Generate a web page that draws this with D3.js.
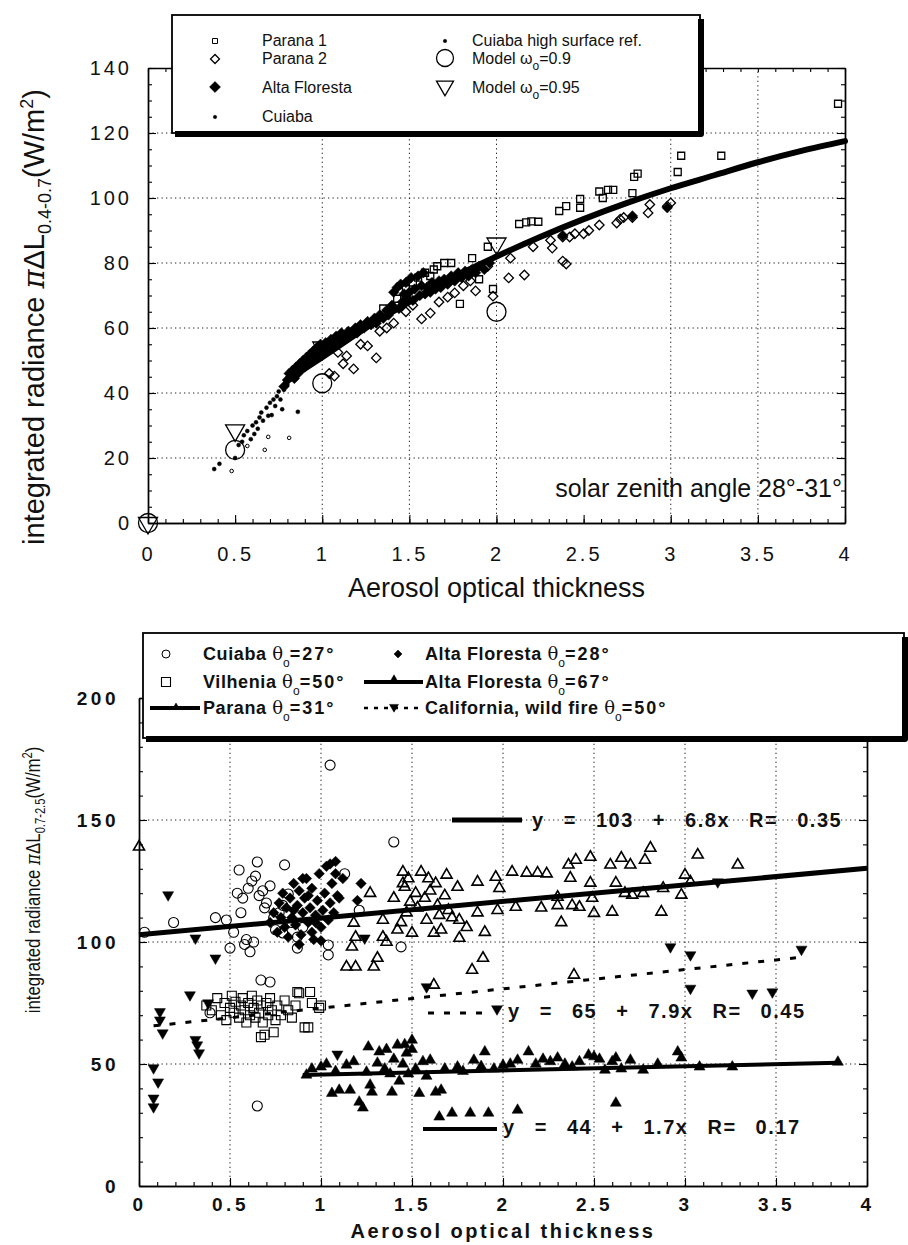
<!DOCTYPE html>
<html>
<head>
<meta charset="utf-8">
<script src="https://cdn.jsdelivr.net/npm/d3@7"></script>
<style>
  html, body { margin: 0; padding: 0; background: #fff; }
  svg { display: block; }
  text { font-family: "Liberation Sans", Arial, Helvetica, sans-serif; fill: #111; }
</style>
</head>
<body>
<svg id="fig" width="908" height="1245"></svg>
<script>
// ================= Upper panel: 0.4-0.7 µm radiance vs optical thickness =================
const topXTicks = [0, 0.5, 1, 1.5, 2, 2.5, 3, 3.5, 4];
const topXTickLabels = ["0", "0.5", "1", "1.5", "2", "2.5", "3", "3.5", "4"];
const topYTicks = [0, 20, 40, 60, 80, 100, 120, 140];
const topYTickLabels = ["0", "20", "40", "60", "80", "100", "120", "140"];
const topXGrid = [1, 1.5, 2, 3, 3.5];
const topYGrid = [20, 40, 60, 80, 100, 120];

// Parana 1 (open squares)
const parana1 = [[1.35,66],[1.43,69],[1.48,72],[1.52,74],[1.55,75.5],[1.59,77],[1.62,76],[1.64,78],[1.66,79],
  [1.70,80],[1.74,80],[1.79,67.4],[1.86,81.5],[1.90,75],[1.95,85],[1.98,72],[2.13,92],[2.17,92.5],[2.20,92.8],
  [2.24,92.7],[2.36,96],[2.40,97.5],[2.48,97],[2.48,99.7],[2.59,102],[2.61,100],[2.64,102.5],[2.67,102.5],
  [2.78,101.5],[2.79,106.5],[2.81,107.5],[3.04,108],[3.06,113],[3.29,113],[3.96,129]];
// Parana 2 (open diamonds)
const parana2 = [[1.04,46],[1.07,45.2],[1.09,52.5],[1.12,49],[1.14,51.4],[1.18,47.4],[1.22,55],[1.26,54.5],
  [1.31,50.8],[1.33,59],[1.37,60],[1.41,61.5],[1.48,65],[1.52,67],[1.57,62.8],[1.62,64.6],[1.67,68],[1.72,69.5],
  [1.76,70.8],[1.81,73],[1.85,74.5],[1.88,71.4],[1.95,79],[1.98,69.8],[2.07,75.4],[2.08,81.5],[2.16,76.3],
  [2.21,85],[2.31,87],[2.32,84.6],[2.38,80.6],[2.40,79.7],[2.38,88],[2.42,88],[2.45,89],[2.50,89],[2.53,90],
  [2.59,91.7],[2.69,92.3],[2.71,93.5],[2.73,94],[2.78,94],[2.87,95.4],[2.88,98],[2.98,97.5],[3.00,98.5]];
// Alta Floresta (filled diamonds)
const altaFlorestaTop = [[0.78,42],[0.80,44],[0.81,46],[0.82,45],[0.83,47],[0.84,44.5],[0.85,48],[0.86,46],
  [0.87,49],[0.88,47.5],[0.89,50],[0.90,48],[0.91,51],[0.92,49.5],[0.93,52],[0.94,50],[0.95,53],[0.96,51.5],
  [0.97,54],[0.98,52],[0.99,55],[1.00,53],[1.02,55.5],[1.03,54],[1.05,56.5],[1.06,55],[1.08,57.5],[1.10,56],
  [1.11,58.5],[1.13,57],[1.15,59],[1.17,58],[1.19,60],[1.20,58.5],[1.22,61],[1.24,60],[1.26,62],[1.28,61],
  [1.30,63],[1.31,61.5],[1.33,64],[1.35,63],[1.37,65.5],[1.38,64],[1.40,67],[1.41,71],[1.43,72.5],[1.44,66],
  [1.45,73.5],[1.46,68],[1.47,70.5],[1.48,74],[1.49,69],[1.50,71],[1.51,75.5],[1.52,68.5],[1.53,72],[1.55,76],
  [1.56,70],[1.57,73],[1.58,77],[1.59,70.5],[1.60,72.5],[1.62,71],[1.63,74],[1.65,72],[1.67,74.5],[1.68,72.5],
  [1.70,75],[1.72,73.5],[1.74,76],[1.76,74.5],[1.78,77],[1.80,75.5],[1.82,77.5],[1.84,76],[1.86,78],[1.88,77],
  [1.90,79],[1.93,78],[1.96,80],[2.38,88.5],[2.78,94.5],[2.98,97]];
// Cuiaba (small dots)
const cuiabaTop = [[0.38,16.6],[0.41,18.2],[0.50,20],[0.52,24],[0.54,25],[0.55,27],[0.57,28.3],[0.59,25.8],
  [0.60,30],[0.61,27.4],[0.62,31],[0.63,29],[0.64,32.5],[0.65,34],[0.66,31.5],[0.68,35.5],[0.69,33],[0.70,37],
  [0.71,33.2],[0.72,38],[0.73,36],[0.74,39],[0.75,40.5],[0.76,38],[0.77,35],[0.78,41],[0.80,42.5],[0.86,34.2]];
// Cuiaba high surface reflectance (small dots)
const cuiabaHigh = [[0.48,16],[0.57,23.7],[0.67,22.5],[0.69,26.5],[0.81,26.2]];
// Model results
const model090 = [[0,0],[0.5,22.5],[1,43],[2,65]];
const model095 = [[0,0],[0.5,28.5],[1,54],[2,86]];
// Smooth fitted curve
const fitCurve = [[0.8,44],[1.0,51],[1.25,60],[1.5,68],[1.75,75.5],[2.0,82],[2.25,88],[2.5,93.5],
  [2.75,98.5],[3.0,103],[3.25,107],[3.5,111],[3.75,114.5],[4.0,117.5]];

// ================= Lower panel: 0.7-2.5 µm radiance vs optical thickness =================
const botXTicks = [0, 0.5, 1, 1.5, 2, 2.5, 3, 3.5, 4];
const botXTickLabels = ["0", "0.5", "1", "1.5", "2", "2.5", "3", "3.5", "4"];
const botYTicks = [0, 50, 100, 150, 200];
const botYTickLabels = ["0", "50", "100", "150", "200"];
const botXGrid = [0.5, 1, 1.5, 2, 2.5, 3, 3.5];
const botYGrid = [50, 100, 150];

// Cuiaba θo=27° (open circles)
const cuiaba27 = [[0.03,104],[0.19,108],[0.39,71],[0.42,110],[0.48,109],[0.50,97.5],[0.52,104],[0.54,120],
  [0.55,129.5],[0.56,112],[0.57,118],[0.58,99],[0.59,101],[0.60,122],[0.61,96],[0.62,125],[0.63,100],[0.64,127],
  [0.65,132.8],[0.65,32.8],[0.66,119],[0.67,84.4],[0.68,121],[0.69,114],[0.70,116],[0.72,83.6],[0.72,123],
  [0.74,110],[0.75,105],[0.77,112],[0.79,103.7],[0.79,115],[0.80,131.6],[0.82,119.7],[0.84,108],[0.87,102],
  [0.87,97.5],[0.90,106],[1.04,98.8],[1.04,94.7],[1.05,172.5],[1.13,128],[1.21,113],[1.40,141],[1.44,98]];
// Vilhenia θo=50° (open squares)
const vilhenia50 = [[0.37,74],[0.40,72],[0.43,77],[0.45,70],[0.47,75],[0.48,68],[0.50,73],[0.51,78],[0.52,71],
  [0.53,75.5],[0.55,69],[0.56,74],[0.57,77],[0.58,72],[0.59,67],[0.60,75],[0.61,70],[0.62,78],[0.63,73],[0.64,69],
  [0.65,76],[0.66,71],[0.67,74],[0.67,61],[0.68,67],[0.69,62],[0.70,75],[0.71,70],[0.72,77],[0.73,72],[0.74,63],
  [0.75,68],[0.76,74],[0.78,70],[0.80,76],[0.82,72],[0.84,69],[0.86,74],[0.87,79.5],[0.88,79],[0.91,65],[0.93,65],
  [0.94,79.5],[0.95,75],[0.99,73],[1.00,74]];
// Alta Floresta θo=28° (filled diamonds)
const alta28 = [[0.72,108],[0.74,112],[0.76,104],[0.77,116],[0.78,110],[0.79,120],[0.80,106],[0.81,114],
  [0.82,102],[0.83,118],[0.84,110],[0.85,124],[0.85,113],[0.86,107],[0.87,115],[0.88,121],[0.88,99],[0.89,103],
  [0.90,112],[0.90,126],[0.91,118],[0.92,126],[0.93,108],[0.93,119],[0.94,114],[0.95,122],[0.95,104],[0.96,101],
  [0.97,111],[0.97,108],[0.98,117],[0.99,128],[1.00,106],[1.00,100.5],[1.01,113],[1.02,120],[1.03,131],[1.04,109],
  [1.05,116],[1.05,132],[1.06,124],[1.07,112],[1.08,128],[1.08,133],[1.09,119],[1.10,118],[1.12,126],[1.20,117],
  [1.22,124]];
// Parana θo=31° (open triangles)
const parana31 = [[0.0,139],[1.14,89.8],[1.17,98],[1.18,107.8],[1.19,102],[1.19,89.8],[1.27,120],[1.29,89.8],
  [1.31,93.4],[1.34,109],[1.34,102],[1.36,100],[1.40,118],[1.42,105],[1.44,108],[1.45,128.7],[1.45,124],
  [1.46,122.5],[1.47,112],[1.48,126],[1.49,116.4],[1.50,103.7],[1.52,120],[1.53,114],[1.55,128.7],[1.57,118],
  [1.58,109],[1.59,126],[1.60,121],[1.62,103.7],[1.62,82.4],[1.63,124],[1.64,115],[1.65,111],[1.66,105],
  [1.68,119],[1.69,127.5],[1.70,113],[1.72,110],[1.75,122.5],[1.76,101.6],[1.76,109],[1.80,106],[1.83,88.5],
  [1.86,124.6],[1.86,112],[1.89,93.4],[1.90,104],[1.96,126.6],[1.97,113],[1.98,122],[2.05,128.7],[2.07,114.3],
  [2.13,128.3],[2.19,128.3],[2.21,114],[2.24,128],[2.30,118.4],[2.30,115],[2.32,108],[2.36,131.6],[2.37,126.2],
  [2.38,115],[2.39,86.5],[2.40,133.6],[2.42,114.3],[2.48,134.8],[2.48,124.2],[2.49,118],[2.50,111.8],[2.59,131.6],
  [2.60,112.3],[2.62,124.2],[2.65,134.4],[2.67,120],[2.70,131.6],[2.71,119.3],[2.77,120],[2.78,133.6],[2.81,138.5],
  [2.87,112.3],[2.88,122],[2.98,119.3],[3.00,127.5],[3.03,124.6],[3.07,135.7],[3.29,131.6]];
// Alta Floresta θo=67° (filled upward triangles)
const alta67 = [[0.92,45.5],[0.95,48],[1.00,48.8],[1.03,50],[1.06,38],[1.08,47],[1.10,39.3],[1.14,49.6],
  [1.16,39.3],[1.18,51],[1.21,34.4],[1.23,32],[1.25,46.7],[1.26,57],[1.27,41.4],[1.28,38.5],[1.31,50.4],[1.32,55],
  [1.35,48],[1.36,56],[1.38,46],[1.39,38.5],[1.40,52],[1.42,57.8],[1.43,43],[1.45,50],[1.46,58],[1.47,54.5],
  [1.48,46],[1.50,59.8],[1.50,56],[1.52,48],[1.54,38],[1.56,51],[1.58,45],[1.60,51.6],[1.63,38.5],[1.65,28.3],
  [1.66,39.3],[1.68,48],[1.72,29.9],[1.75,48.8],[1.78,47],[1.82,29.9],[1.84,51.6],[1.88,49],[1.90,55],[1.92,29.9],
  [1.95,48],[2.00,49.5],[2.04,50],[2.08,31.1],[2.08,51.6],[2.14,55],[2.18,50],[2.22,52],[2.26,51],[2.30,52.5],
  [2.34,50],[2.38,48.8],[2.42,51],[2.47,53.7],[2.50,53],[2.53,52],[2.56,47.5],[2.60,51],[2.62,52.5],[2.62,34],
  [2.65,48],[2.70,51.6],[2.77,47.5],[2.85,50],[2.96,55],[2.98,52.5],[3.08,48.8],[3.26,48.8],[3.84,50.8]];
// California wild fire θo=50° (filled downward triangles)
const california50 = [[0.08,48.4],[0.08,36],[0.08,32.4],[0.105,42.6],[0.115,71.4],[0.115,68],[0.13,62.7],
  [0.16,119.3],[0.28,78.3],[0.31,101.6],[0.31,60],[0.32,57.8],[0.33,54.5],[0.38,75],[0.42,93.4],[1.09,54],
  [1.24,101.6],[1.58,81.6],[2.92,98],[3.03,94.7],[3.03,81],[3.18,124.6],[3.37,79],[3.48,79.5],[3.64,97]];

// Linear fits (intercept, slope, correlation, x-range) as printed on the panel
const fitParana = { a: 103, b: 6.8, r: 0.35, from: 0, to: 4 };
const fitCalifornia = { a: 65, b: 7.9, r: 0.45, from: 0.08, to: 3.64 };
const fitAlta67 = { a: 44, b: 1.7, r: 0.17, from: 0.9, to: 3.84 };

// ================= drawing =================
const svg = d3.select("#fig");
const FONT = '"Liberation Sans", Arial, Helvetica, sans-serif';

function symPath(shape, size) {
  // size = full width of the marker in px
  switch (shape) {
    case "square":  return d3.symbol(d3.symbolSquare, size * size)();
    case "diamond": return d3.symbol(d3.symbolSquare, (size / Math.SQRT2) ** 2)();
    case "circle":  return d3.symbol(d3.symbolCircle, Math.PI * (size / 2) ** 2)();
    case "triUp":
    case "triDown": return d3.symbol(d3.symbolTriangle, size * size * Math.sqrt(3) / 4)();
  }
}
function rot(shape) { return shape === "diamond" ? 45 : shape === "triDown" ? 180 : 0; }

function marks(g, data, x, y, shape, size, filled, sw = 1.2) {
  g.append("g").selectAll("path").data(data).join("path")
    .attr("d", symPath(shape, size))
    .attr("transform", d => `translate(${x(d[0])},${y(d[1])}) rotate(${rot(shape)})`)
    .attr("fill", filled ? "#000" : "none")
    .attr("stroke", "#000")
    .attr("stroke-width", sw);
}
function marker(g, cx, cy, shape, size, filled, sw = 1.2) {
  g.append("path").attr("d", symPath(shape, size))
    .attr("transform", `translate(${cx},${cy}) rotate(${rot(shape)})`)
    .attr("fill", filled ? "#000" : "none").attr("stroke", "#000").attr("stroke-width", sw);
}

function grid(g, x, y, xs, ys) {
  const gg = g.append("g").attr("stroke", "#222").attr("stroke-width", 1).attr("stroke-dasharray", "1.3,3.2");
  const [x0, x1] = x.range(), [y0, y1] = y.range();
  xs.forEach(v => gg.append("line").attr("x1", x(v)).attr("x2", x(v)).attr("y1", y0).attr("y2", y1));
  ys.forEach(v => gg.append("line").attr("x1", x0).attr("x2", x1).attr("y1", y(v)).attr("y2", y(v)));
}

function frame(g, x, y, opt) {
  const [x0, x1] = x.range(), [y0, y1] = y.range();
  const xMinor = d3.range(0, 4.0001, 0.1).map(v => +v.toFixed(2));
  const yMinor = d3.range(0, opt.yMax + 0.001, opt.yMinorStep);
  const style = sel => sel.call(s => s.select(".domain").attr("stroke-width", 1.4))
    .call(s => s.selectAll(".tick line").attr("stroke-width", 1.1));
  // minor ticks on all four sides
  g.append("g").attr("transform", `translate(0,${y0})`)
    .call(d3.axisBottom(x).tickValues(xMinor).tickSizeInner(-4).tickSizeOuter(0).tickFormat("")).call(style);
  g.append("g").attr("transform", `translate(0,${y1})`)
    .call(d3.axisTop(x).tickValues(xMinor).tickSizeInner(-4).tickSizeOuter(0).tickFormat("")).call(style);
  g.append("g").attr("transform", `translate(${x0},0)`)
    .call(d3.axisLeft(y).tickValues(yMinor).tickSizeInner(-4).tickSizeOuter(0).tickFormat("")).call(style);
  g.append("g").attr("transform", `translate(${x1},0)`)
    .call(d3.axisRight(y).tickValues(yMinor).tickSizeInner(-4).tickSizeOuter(0).tickFormat("")).call(style);
  // major ticks with labels
  const bx = g.append("g").attr("transform", `translate(0,${y0})`)
    .call(d3.axisBottom(x).tickValues(opt.xTicks).tickSizeInner(-8).tickSizeOuter(0)
      .tickPadding(opt.xPad).tickFormat((d, i) => opt.xLabels[i])).call(style);
  const ly = g.append("g").attr("transform", `translate(${x0},0)`)
    .call(d3.axisLeft(y).tickValues(opt.yTicks).tickSizeInner(-8).tickSizeOuter(0)
      .tickPadding(opt.yPad).tickFormat((d, i) => opt.yLabels[i])).call(style);
  g.append("g").attr("transform", `translate(${x1},0)`)
    .call(d3.axisRight(y).tickValues(opt.yTicks).tickSizeInner(-8).tickSizeOuter(0).tickFormat("")).call(style);
  [bx, ly].forEach(a => a.selectAll("text")
    .attr("font-family", opt.font).attr("font-size", opt.tickSize)
    .attr("font-weight", opt.bold ? "bold" : "normal")
    .attr("letter-spacing", opt.spacing).attr("fill", "#111"));
}

function legendBox(g, x0, y0, x1, y1) {
  g.append("rect").attr("x", x0).attr("y", y0).attr("width", x1 - x0).attr("height", y1 - y0)
    .attr("fill", "#fff").attr("stroke", "#000").attr("stroke-width", 1.8);
  g.append("path").attr("d", `M${x0 + 3},${y1 + 1} H${x1 + 1} V${y0 + 4}`)
    .attr("fill", "none").attr("stroke", "#000").attr("stroke-width", 6).attr("stroke-linejoin", "round");
}

// ---------- upper panel ----------
const xT = d3.scaleLinear([0, 4], [148, 845]);
const yT = d3.scaleLinear([0, 140], [523, 68]);
const gT = svg.append("g");

grid(gT, xT, yT, topXGrid, topYGrid);
frame(gT, xT, yT, {
  yMax: 140, yMinorStep: 5, xTicks: topXTicks, xLabels: topXTickLabels, yTicks: topYTicks, yLabels: topYTickLabels,
  xPad: 24, yPad: 16, font: FONT, tickSize: 20, spacing: 3, bold: false
});

marks(gT, cuiabaHigh, xT, yT, "circle", 3.6, false, 1);
marks(gT, cuiabaTop, xT, yT, "circle", 4, true, 0.5);
marks(gT, parana1, xT, yT, "square", 7, false, 1.3);
marks(gT, parana2, xT, yT, "diamond", 9.5, false, 1.3);
marks(gT, altaFlorestaTop, xT, yT, "diamond", 10.5, true, 0.5);

gT.append("path").datum(fitCurve)
  .attr("d", d3.line().x(d => xT(d[0])).y(d => yT(d[1])).curve(d3.curveMonotoneX))
  .attr("fill", "none").attr("stroke", "#000").attr("stroke-width", 6).attr("stroke-linecap", "round");

marks(gT, model090, xT, yT, "circle", 19, false, 1.3);
marks(gT, model095, xT, yT, "triDown", 19, false, 1.3);

gT.append("text").attr("x", 842).attr("y", 497).attr("text-anchor", "end")
  .attr("font-size", 25).text("solar zenith angle 28°-31°");

gT.append("text").attr("x", (148 + 845) / 2).attr("y", 597).attr("text-anchor", "middle")
  .attr("font-size", 27).text("Aerosol optical thickness");

// y-axis title with sub/superscripts
const tyT = gT.append("text").attr("transform", "translate(44,317) rotate(-90)")
  .attr("text-anchor", "middle").attr("font-size", 29);
tyT.append("tspan").text("integrated radiance ");
tyT.append("tspan").attr("font-family", "DejaVu Serif, serif").attr("font-style", "italic").text("π");
tyT.append("tspan").text("ΔL");
tyT.append("tspan").attr("font-size", 18).attr("dy", 7).text("0.4-0.7");
tyT.append("tspan").attr("dy", -7).text("(W/m");
tyT.append("tspan").attr("font-size", 18).attr("dy", -11).text("2");
tyT.append("tspan").attr("dy", 11).text(")");

// legend (upper)
const lgT = gT.append("g");
legendBox(lgT, 172, 15, 700, 133);
const lt = (x, y, s) => lgT.append("text").attr("x", x).attr("y", y).attr("font-size", 16).text(s);
marker(lgT, 215, 41, "square", 5, false, 1);
lt(262, 46, "Parana 1");
marker(lgT, 215, 59, "diamond", 9, false, 1.3);
lt(262, 64, "Parana 2");
marker(lgT, 215, 87, "diamond", 11, true, 0.5);
lt(262, 93, "Alta Floresta");
marker(lgT, 215, 117, "circle", 3.5, true, 0.5);
lt(262, 122, "Cuiaba");
marker(lgT, 445, 41, "circle", 3.5, true, 0.5);
lt(472, 46, "Cuiaba high surface ref.");
marker(lgT, 445, 58, "circle", 17, false, 1.3);
const m1 = lt(472, 64, "Model ω");
m1.append("tspan").attr("font-size", 12).attr("dy", 6).text("o");
m1.append("tspan").attr("dy", -6).text("=0.9");
marker(lgT, 445, 86, "triDown", 17, false, 1.3);
const m2 = lt(472, 93, "Model ω");
m2.append("tspan").attr("font-size", 12).attr("dy", 6).text("o");
m2.append("tspan").attr("dy", -6).text("=0.95");

// ---------- lower panel ----------
const xB = d3.scaleLinear([0, 4], [139, 867]);
const yB = d3.scaleLinear([0, 200], [1186, 698]);
const gB = svg.append("g");

grid(gB, xB, yB, botXGrid, botYGrid);
frame(gB, xB, yB, {
  yMax: 200, yMinorStep: 10, xTicks: botXTicks, xLabels: botXTickLabels, yTicks: botYTicks, yLabels: botYTickLabels,
  xPad: 12, yPad: 20, font: FONT, tickSize: 19, spacing: 3.5, bold: true
});

marks(gB, vilhenia50, xB, yB, "square", 9, false, 1.1);
marks(gB, cuiaba27, xB, yB, "circle", 10, false, 1.1);
marks(gB, parana31, xB, yB, "triUp", 11, false, 1.6);
marks(gB, alta28, xB, yB, "diamond", 10.5, true, 0.5);
marks(gB, alta67, xB, yB, "triUp", 11, true, 0.5);
marks(gB, california50, xB, yB, "triDown", 11, true, 0.5);

const fitLine = (f, w, dash) => gB.append("line")
  .attr("x1", xB(f.from)).attr("y1", yB(f.a + f.b * f.from))
  .attr("x2", xB(f.to)).attr("y2", yB(f.a + f.b * f.to))
  .attr("stroke", "#000").attr("stroke-width", w).attr("stroke-dasharray", dash);
fitLine(fitParana, 5, null);
fitLine(fitCalifornia, 3, "6,10");
fitLine(fitAlta67, 4, null);

// fit equations
const eqText = (f) => `y = ${f.a} + ${f.b}x R= ${f.r}`;
const eq = (x, y, s) => gB.append("text").attr("x", x).attr("y", y).attr("font-size", 20)
  .attr("font-weight", "bold").attr("letter-spacing", 1.5).attr("word-spacing", 12).text(s);
gB.append("line").attr("x1", 452).attr("x2", 522).attr("y1", 820).attr("y2", 820)
  .attr("stroke", "#000").attr("stroke-width", 5);
eq(532, 827, eqText(fitParana));
gB.append("line").attr("x1", 428).attr("x2", 492).attr("y1", 1013).attr("y2", 1013)
  .attr("stroke", "#000").attr("stroke-width", 3).attr("stroke-dasharray", "6,10");
marker(gB, 497, 1009, "triDown", 11, true, 0.5);
eq(508, 1018, eqText(fitCalifornia));
gB.append("line").attr("x1", 423).attr("x2", 497).attr("y1", 1129).attr("y2", 1129)
  .attr("stroke", "#000").attr("stroke-width", 4);
eq(503, 1134, eqText(fitAlta67));

gB.append("text").attr("x", (139 + 867) / 2).attr("y", 1238).attr("text-anchor", "middle")
  .attr("font-size", 20).attr("font-weight", "bold").attr("letter-spacing", 2.5).text("Aerosol optical thickness");

// y-axis title, condensed horizontally along the text direction
const tyB = gB.append("text").attr("transform", "translate(40,880) rotate(-90) scale(0.8,1)")
  .attr("text-anchor", "middle").attr("font-size", 21);
tyB.append("tspan").text("integrated radiance ");
tyB.append("tspan").attr("font-family", "DejaVu Serif, serif").attr("font-style", "italic").text("π");
tyB.append("tspan").text("ΔL");
tyB.append("tspan").attr("font-size", 14).attr("dy", 5).text("0.7-2.5");
tyB.append("tspan").attr("dy", -5).text("(W/m");
tyB.append("tspan").attr("font-size", 14).attr("dy", -8).text("2");
tyB.append("tspan").attr("dy", 8).text(")");

// legend (lower)
const lgB = gB.append("g");
legendBox(lgB, 143, 633, 904, 738);
const lb = (x, y, name, deg) => {
  const t = lgB.append("text").attr("x", x).attr("y", y).attr("font-size", 18).attr("font-weight", "bold");
  t.append("tspan").attr("letter-spacing", 0.6).text(name + " ");
  t.append("tspan").attr("font-weight", "normal").attr("font-family", "DejaVu Serif, serif").text("θ");
  t.append("tspan").attr("font-size", 12).attr("font-weight", "normal").attr("dy", 7).text("o");
  t.append("tspan").attr("dy", -7).attr("letter-spacing", 2).text("=" + deg + "°");
  return t;
};
marker(lgB, 166, 654, "circle", 8, false, 1);
lb(203, 660, "Cuiaba", 27);
marker(lgB, 166, 682, "square", 9, false, 1.1);
lb(203, 688, "Vilhenia", 50);
lgB.append("line").attr("x1", 150).attr("x2", 200).attr("y1", 708).attr("y2", 708)
  .attr("stroke", "#000").attr("stroke-width", 4);
marker(lgB, 176, 707, "triUp", 7, true, 0.5);
lb(203, 714, "Parana", 31);
marker(lgB, 398, 654, "diamond", 8, true, 0.5);
lb(425, 660, "Alta Floresta", 28);
lgB.append("line").attr("x1", 364).attr("x2", 423).attr("y1", 682).attr("y2", 682)
  .attr("stroke", "#000").attr("stroke-width", 4);
marker(lgB, 394, 680, "triUp", 9, true, 0.5);
lb(425, 688, "Alta Floresta", 67);
lgB.append("line").attr("x1", 364).attr("x2", 423).attr("y1", 708).attr("y2", 708)
  .attr("stroke", "#000").attr("stroke-width", 2.5).attr("stroke-dasharray", "4,6");
marker(lgB, 394, 707, "triDown", 9, true, 0.5);
lb(425, 714, "California, wild fire", 50);
</script>
</body>
</html>
